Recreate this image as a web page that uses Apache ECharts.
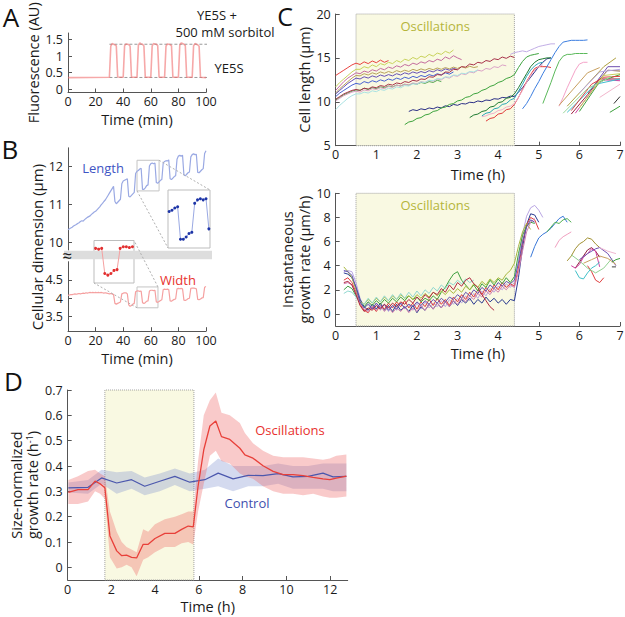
<!DOCTYPE html>
<html>
<head>
<meta charset="utf-8">
<script src="https://cdn.jsdelivr.net/npm/echarts@6/dist/echarts.min.js"></script>
<style>
html,body{margin:0;padding:0;background:#fff;}
#chart{width:625px;height:617px;}
</style>
</head>
<body>
<div id="chart"></div>
<script>
// ================= DATA =================
// Panel A: medium switching, fluorescence (AU) vs time (min)
const timeA  = [0,30,31,32,33,34,35,36,40,41,42,43,44,45,46,50,51,52,53,54,55,56,60,61,62,63,64,65,66,70,71,72,73,74,75,76,80,81,82,83,84,85,86,90,91,92,93,94,95,96,100];
const fluorA = [0.35,
  0.36,1.30,1.38,1.36,1.34,1.31,0.37,
  0.36,1.31,1.37,1.36,1.35,1.30,0.36,
  0.36,1.33,1.40,1.37,1.36,1.31,0.36,
  0.36,1.31,1.38,1.37,1.36,1.32,0.36,
  0.36,1.30,1.37,1.36,1.35,1.31,0.36,
  0.36,1.33,1.40,1.38,1.36,1.32,0.36,
  0.36,1.31,1.38,1.36,1.34,1.30,0.36,
  0.35];
const refLevelsA = [1.36, 0.355];      // sorbitol / YE5S levels
const refSpanA   = [30, 108];          // minutes

// Panel B: cell length and width (µm) vs time (min)
const minutesB = [0,1,2,3,4,5,6,7,8,9,10,11,12,13,14,15,16,17,18,19,20,21,22,23,24,25,26,27,28,29,30,31,32,33,34,35,36,37,38,39,40,41,42,43,44,45,46,47,48,49,50,51,52,53,54,55,56,57,58,59,60,61,62,63,64,65,66,67,68,69,70,71,72,73,74,75,76,77,78,79,80,81,82,83,84,85,86,87,88,89,90,91,92,93,94,95,96,97,98,99,100];
const lengthB = [10.33,10.36,10.38,10.40,10.43,10.45,10.47,10.50,10.52,10.55,
  10.57,10.56,10.60,10.63,10.66,10.68,10.70,10.74,10.77,10.80,
  10.82,10.86,10.90,10.94,10.99,11.03,11.08,11.12,11.18,11.24,
  11.30,11.36,11.42,11.48,11.08,11.02,11.06,11.10,11.14,11.55,
  11.62,11.64,11.66,11.68,11.22,11.20,11.24,11.28,11.32,11.82,
  11.88,11.90,11.94,11.96,11.40,11.40,11.44,11.50,11.52,12.02,
  12.08,12.10,12.08,12.10,11.58,11.56,11.60,11.64,11.66,12.10,
  12.14,12.16,12.15,12.18,11.68,11.66,11.70,11.74,11.76,12.20,
  12.28,12.30,12.28,12.30,11.78,11.76,11.80,11.84,11.86,12.26,
  12.32,12.34,12.32,12.33,11.85,11.84,11.88,11.92,11.95,12.35,
  12.42];
const widthB = [4.08,4.09,4.10,4.10,4.11,4.12,4.11,4.12,4.13,4.12,
  4.13,4.14,4.13,4.15,4.14,4.15,4.16,4.15,4.16,4.15,
  4.16,4.15,4.16,4.15,4.16,4.15,4.14,4.15,4.14,4.13,
  4.12,4.13,4.12,4.10,3.86,3.84,3.86,3.88,3.90,4.12,
  4.14,4.15,4.15,4.12,3.82,3.78,3.80,3.84,3.86,4.18,
  4.20,4.20,4.19,4.20,3.88,3.86,3.88,3.92,3.93,4.20,
  4.22,4.22,4.21,4.22,3.90,3.89,3.91,3.94,3.96,4.24,
  4.25,4.24,4.25,4.24,3.93,3.92,3.95,3.97,3.98,4.26,
  4.27,4.26,4.27,4.26,3.95,3.94,3.96,3.99,4.00,4.27,
  4.28,4.28,4.27,4.26,3.97,3.96,3.98,4.01,4.02,4.30,
  4.32];
const insetWindowLen = [50, 64];   // minutes shown in blue inset
const insetWindowWid = [51, 63];   // minutes shown in red inset

// Panel C: sampling grid (h) and single-cell traces [start time, values...]
const tGrid = [0,0.1,0.2,0.3,0.4,0.5,0.6,0.7,0.8,0.9,1,1.1,1.2,1.3,1.4,1.5,1.6,1.7,1.8,1.9,2,2.1,2.2,2.3,2.4,2.5,2.6,2.7,2.8,2.9,3,3.1,3.2,3.3,3.4,3.5,3.6,3.7,3.8,3.9,4,4.1,4.2,4.3,4.4,4.5,4.6,4.7,4.8,4.9,5,5.1,5.2,5.3,5.4,5.5,5.6,5.7,5.8,5.9,6,6.1,6.2,6.3,6.4,6.5,6.6,6.7,6.8,6.9,7];
const oscWindowC = [0.5, 4.4];
const lengthTraces = [
  [0,[13.0,13.3,13.6,13.9,14.2,14.4,14.25,14.55,14.35,14.65,14.45,14.75,14.5,14.7]],
  [0,[11.7,12.2,12.6,13.0,13.4,13.7,13.7,14.0,13.85,14.2,14.0,14.35,14.2,14.5,14.35,14.7,14.5,14.85,14.7,15.05,14.85,15.2,15.05,15.4,15.2,15.55,15.4,15.75,15.55,15.9]],
  [0,[11.3,11.8,12.3,12.7,13.0,13.3,13.2,13.5,13.35,13.65,13.5,13.8,13.65,13.95,13.8,14.1,13.95,14.25,14.1,14.4,14.25,14.55,14.4,14.7,14.55,14.85,14.7,15.1,14.9,15.25,15.0,14.8]],
  [0,[11.0,11.5,11.9,12.3,12.7,13.0,12.95,13.2,13.05,13.3,13.15,13.4,13.25,13.45,13.3,13.55,13.4,13.6,13.45,13.7,13.55,13.75,13.6,13.8,13.65,13.85,13.7,13.9,13.75,13.95,13.8,14.0,13.85,14.05,13.9,14.0]],
  [0,[10.9,11.3,11.7,12.1,12.4,12.7,12.6,12.85,12.7,12.95,12.8,13.05,12.9,13.1,12.95,13.2,13.05,13.3,13.15,13.4,13.25,13.45,13.3,13.55,13.4,13.65,13.5,13.75,13.6,13.8,13.65]],
  [0,[10.6,11.0,11.3,11.6,11.9,12.1,12.0,12.3,12.15,12.4,12.25,12.5,12.35,12.6,12.45,12.7,12.55,12.8,12.65,12.9,12.75,13.0,12.85,13.1,12.95,13.2,13.05,13.3,13.15,13.4]],
  [0,[10.2,10.5,10.8,11.0,11.2,11.35,11.3,11.55,11.4,11.6,11.5,11.7,11.6,11.8,11.7,11.9,11.8,12.0,11.9,12.1,12.0,12.2,12.1,12.3,12.2,12.45,12.3]],
  [0,[10.3,10.6,10.9,11.1,11.3,11.4,11.3,11.55,11.45,11.7,11.6,11.85,11.75,12.0,11.9,12.15,12.05,12.3,12.2,12.45,12.35,12.6,12.55,12.85,12.8,13.1,13.05,13.4,13.35,13.7,13.65,14.0,13.95,14.3,14.2,14.5,14.4,14.7,14.6,14.9,14.8,15.1,14.95,15.2,15.05]],
  [0,[10.1,10.4,10.7,10.9,11.1,11.2,11.1,11.35,11.25,11.5,11.4,11.6,11.5,11.75,11.65,11.9,11.8,12.0,11.9,12.15,12.05,12.3,12.2,12.45,12.35,12.6,12.5,12.8,12.7,13.0,12.9,13.2,13.1,13.4,13.3,13.6,13.5,13.8,13.7,14.0,13.9,14.2,14.1]],
  [0,[9.1,9.6,10.0,10.4,10.7,10.9,10.9,11.1,11.0,11.25,11.15,11.4,11.3,11.55,11.45,11.7,11.6,11.85,11.8,12.05,12.0,12.25,12.2,12.45,12.4,12.65,12.6,12.85,12.8,13.05,13.0,13.25,13.2,13.45,13.4,13.65]],
  [1.8,[8.9,9.1,9.0,9.2,9.1,9.3,9.2,9.4,9.3,9.55,9.45,9.7,9.6,9.8,9.75,9.95,9.9,10.1,10.0,10.2,10.15,10.35,10.3,10.5,10.45,10.65,10.6,11.1,11.6,12.2,12.8,13.4,14.0,14.5,14.9,15.0]],
  [1.7,[7.4,7.7,7.8,8.1,8.2,8.5,8.6,8.9,9.0,9.3,9.4,9.7,9.8,10.1,10.2,10.5,10.6,10.9,11.0,11.3,11.45,11.75,11.9,12.2,12.35,12.65,12.8,13.1,13.9,14.6,15.1,15.3,15.4,15.5]],
  [3.3,[8.2,8.5,8.6,8.9,9.0,9.4,9.5,9.9,10.0,10.4,10.5,10.9,11.6,12.4,13.2,14.0,14.5,14.8,14.9,15.0,15.0]],
  [3.7,[7.8,8.1,8.2,8.6,8.7,9.1,9.2,9.7,10.5,11.4,12.3,13.1,13.8,14.0,14.0,14.0,13.9]],
  [3.6,[8.4,8.7,8.8,9.2,9.3,9.7,9.8,10.2,10.4,11.2,12.0,12.9,13.6,14.1,14.4,14.5]],
  [3.6,[8.3,8.4,8.6,8.7,9.0,9.1,9.4,9.5,9.8,10.5,11.3,12.2,13.0,13.6,14.0,14.2]],
  [4.3,[15.4,15.6,15.7,15.8,15.7,15.9,16.1,16.3,16.4,16.5,16.6,16.6]],
  [4.6,[9.2,9.8,10.6,11.5,12.3,13.2,14.0,14.8,15.6,16.3,16.8,16.9,17.0,17.0,17.0,17.0,17.05]],
  [5.1,[9.8,11.0,12.2,13.5,14.6,15.2,15.4,15.4,15.5,15.5,15.5,15.5]],
  [5.5,[9.5,10.5,11.6,12.6,13.6,14.3,14.5,14.5]]
];
const lengthLate = [
  [[5.7,9.5],[6.6,14.0],[6.9,15.0]],
  [[5.8,8.6],[6.2,10.8],[6.5,12.6],[7.0,12.6]],
  [[5.9,8.7],[6.4,11.8],[6.6,12.5],[7.0,12.4]],
  [[6.3,11.5],[6.7,14.0],[7.0,14.0]],
  [[6.2,11.0],[6.7,13.6],[7.0,13.5]],
  [[5.7,8.8],[6.4,12.0],[7.0,12.6]],
  [[6.0,8.9],[6.5,12.3],[7.0,13.1]],
  [[6.5,10.5],[7.0,12.0]],
  [[6.85,9.8],[7.0,10.6]],
  [[6.75,8.8],[7.0,9.5]],
  [[5.5,9.6],[6.2,13.3],[6.5,13.9]],
  [[6.0,11.0],[6.5,13.4],[7.0,13.7]],
  [[5.8,9.0],[6.3,12.0],[6.6,12.8],[7.0,12.9]],
  [[5.6,8.7],[6.2,11.5],[6.8,12.9]],
  [[6.0,9.3],[6.6,13.0],[7.0,13.2]]
];
const rateTraces = [
  [0.2,[3.5,3.6,3.5,2.6,1.3, 0.5,1.0,0.4,0.9,0.3,0.8,0.2,0.7,0.3,0.9,0.4,0.8,0.3,0.9,0.4,1.0,0.5,0.9,0.6,1.1,0.6,1.2,0.8, 1.3,0.9,1.5,1.1,1.7,1.3,1.9,1.5,2.1,1.8,2.3,2.0,2.5,2.2,2.6, 4.5,6.6,8.1,8.8,9.0,8.6,8.0]],
  [0.2,[3.4,3.3,3.0,2.2,1.2, 0.6,0.3,0.8,0.4,0.9,0.3,0.7,0.2,0.8,0.3,0.6,0.2,0.7,0.1,0.6,0.3,0.8,0.4,0.9,0.5,1.0,0.6,1.1, 0.7,1.2,0.9,1.3,0.8,1.2,0.9,1.4,1.0,1.3,0.9,1.2,0.8,1.2,1.1, 3.0,5.5,7.4,8.3,8.2,7.6]],
  [0.2,[2.8,3.0,2.6,1.8,0.8, 0.3,0.1,0.6,0.2,0.7,0.4,0.9,0.5,1.0,0.6,1.1,0.5,0.9,0.4,1.0,0.6,1.2,0.7,1.3,0.8,1.2,0.7,1.4, 1.0,1.6,1.2,1.8,1.4,2.0,1.6,2.2,1.8,2.4,2.0,2.6,2.2,2.5,2.3, 3.8,5.9,7.4,8.0,7.8,7.0]],
  [0.2,[2.0,2.3,2.1,1.5,0.9, 0.6,1.0,0.7,1.1,0.8,1.2,0.9,1.3,1.0,1.4,1.1,1.5,1.2,1.4,1.0,1.3,1.1,1.5,1.2,1.8,2.2,2.8,3.3, 3.5,2.8,2.4,2.0,2.4,1.9,2.5,2.2,2.8,2.4,2.9,2.5,3.0,2.6,3.1, 5.0,6.5,7.3,7.6,7.5]],
  [0.2,[3.9,3.5,3.0,2.0,1.0, 0.8,1.2,0.9,1.3,1.0,1.4,1.1,1.5,1.2,1.6,1.3,1.5,1.2,1.6,1.3,1.7,1.4,1.8,1.5,1.9,1.6,2.0,1.7, 2.1,1.8,2.3,2.0,2.5,2.2,2.7,2.4,2.9,2.6,3.0,2.8,3.3,3.6,4.2, 5.6,6.8,7.5,7.0]],
  [0.2,[1.7,1.9,1.8,1.4,0.9, 0.8,1.3,0.9,1.4,1.0,1.5,1.1,1.6,1.2,1.7,1.3,1.8,1.4,1.9,1.5,2.0,1.7,2.2,1.9,2.4,2.1,2.6,2.4, 2.8,2.5,2.9,2.6,2.8]],
  [0.2,[2.5,2.6,2.4,1.7,0.9, 0.4,0.2,0.6,0.3,0.7,0.2,0.6,0.1,0.5,0.2,0.6,0.1,0.5,0.2,0.7,0.3,0.8,0.4,0.9,0.5,1.0,0.6,1.1, 0.8,1.3,1.0,1.5,1.2,1.7,1.4,1.9,1.6,2.1,1.8,2.3,2.0,2.4,2.2, 3.5,5.2,6.8,7.6,7.9]],
  [0.2,[3.6,3.5,3.2,2.2,1.0, 0.5,0.8,0.4,0.9,0.5,0.8,0.3,0.7,0.4,0.9,0.5,0.8,0.6,1.0,0.7,1.1,0.8,1.2,0.9,1.3,1.0,1.4,1.2, 1.6,1.3,1.8,1.5,2.0,1.7,2.2,1.9,2.4,2.1,2.6,2.3,2.7,2.5,2.8, 4.2,6.0,7.2,7.8,7.6]],
  [0.2,[2.6,2.7,2.4,1.6,0.7, 0.2,0.5,0.3,0.7,0.4,0.8,0.5,0.9,0.6,1.0,0.8,1.2,0.9,1.4,1.1,1.6,1.3,1.8,1.6,2.1,1.8,2.4,2.0, 2.6,2.3,2.8,3.0,2.5,2.2,1.6,1.1,0.6,0.3]]
];
const rateLate = [
  [[4.8,4.7],[4.9,5.6],[5.0,6.3],[5.1,6.6],[5.2,6.8],[5.3,7.1],[5.4,7.5],[5.5,7.9],[5.6,8.1],[5.7,7.6]],
  [[5.2,6.8],[5.3,7.2],[5.4,7.6],[5.5,7.5],[5.6,7.8],[5.7,7.9],[5.8,7.6]],
  [[5.4,5.5],[5.5,6.1],[5.6,6.4],[5.7,6.6],[5.8,6.8]],
  [[5.7,4.4],[5.8,4.8],[5.9,5.4],[6.0,5.8],[6.1,6.0],[6.2,6.3],[6.3,6.2],[6.4,5.8],[6.5,5.5]],
  [[5.9,3.8],[6.0,4.3],[6.1,4.8],[6.2,5.3],[6.3,5.5],[6.4,5.2],[6.5,4.7]],
  [[5.8,4.0],[5.9,3.8],[6.0,4.1],[6.1,4.7],[6.2,5.0],[6.3,5.4],[6.4,5.2],[6.5,3.9]],
  [[5.9,3.6],[6.0,3.0],[6.1,2.9],[6.2,3.4],[6.3,3.8],[6.4,4.0],[6.5,4.3]],
  [[6.2,4.0],[6.3,3.5],[6.4,2.8],[6.5,2.6],[6.6,3.0]],
  [[5.8,4.9],[6.0,4.4],[6.2,3.8],[6.4,3.4],[6.6,3.8],[6.8,4.6]],
  [[6.0,4.5],[6.2,5.0],[6.4,5.4],[6.5,5.5],[6.7,5.0],[6.9,4.0]],
  [[6.1,4.2],[6.3,4.5],[6.5,4.8],[6.7,4.6],[6.9,4.1]],
  [[6.5,5.5],[6.7,5.2],[6.9,5.0]],
  [[6.8,4.3],[6.9,4.5],[7.0,4.6]],
  [[6.8,3.9],[6.9,3.9]]
];

// Panel D: size-normalized growth rate (1/h)
const oscWindowD = [1.7, 5.77];
const oscT     = [0.03,0.47,0.93,1.25,1.48,1.70,1.93,2.24,2.47,2.69,2.92,3.15,3.45,3.68,3.99,4.44,4.90,5.21,5.51,5.74,5.96,6.22,6.50,6.77,7.03,7.41,7.87,8.10,8.47,8.93,9.39,9.85,10.30,10.76,11.22,11.67,11.98,12.28,12.74];
const oscMean  = [0.296,0.307,0.307,0.34,0.33,0.314,0.124,0.065,0.046,0.048,0.039,0.037,0.091,0.091,0.114,0.134,0.134,0.150,0.163,0.16,0.32,0.464,0.558,0.578,0.516,0.505,0.47,0.444,0.431,0.401,0.379,0.366,0.366,0.362,0.355,0.349,0.346,0.352,0.36];
const oscUpper = [0.345,0.36,0.38,0.385,0.37,0.36,0.22,0.14,0.10,0.08,0.07,0.06,0.15,0.14,0.17,0.19,0.20,0.21,0.22,0.22,0.42,0.60,0.66,0.69,0.61,0.60,0.57,0.53,0.49,0.46,0.44,0.435,0.435,0.435,0.43,0.425,0.43,0.44,0.445];
const oscLower = [0.25,0.25,0.26,0.30,0.29,0.27,0.04,-0.005,0.0,0.01,0.0,-0.035,0.03,0.04,0.06,0.08,0.08,0.095,0.10,0.09,0.22,0.33,0.44,0.46,0.42,0.41,0.37,0.36,0.35,0.32,0.30,0.29,0.29,0.285,0.29,0.28,0.275,0.275,0.28];
const ctlT     = [0.03,0.93,1.55,2.24,2.92,3.52,4.21,4.90,5.58,6.27,6.88,7.56,8.25,8.93,9.62,10.30,10.99,11.67,12.13,12.74];
const ctlMean  = [0.314,0.316,0.353,0.333,0.346,0.32,0.34,0.359,0.336,0.346,0.372,0.349,0.363,0.362,0.37,0.357,0.359,0.372,0.357,0.359];
const ctlUpper = [0.335,0.345,0.385,0.375,0.38,0.355,0.37,0.39,0.37,0.385,0.43,0.40,0.40,0.40,0.41,0.40,0.40,0.41,0.41,0.41];
const ctlLower = [0.295,0.29,0.33,0.29,0.31,0.285,0.30,0.325,0.30,0.31,0.32,0.30,0.32,0.32,0.33,0.31,0.31,0.31,0.30,0.30];

// Tick labels
const ticksA_y = [0, 0.5, 1, 1.5];
const ticksB_up = [10, 11, 12];
const ticksB_lo = [3.5, 4, 4.5];
const ticksCb_y = [0, 2, 4, 6, 8, 10];
const ticksD_x = [0, 2, 4, 6, 8, 10, 12];
const ticksD_y = [0, 0.1, 0.2, 0.3, 0.4, 0.5, 0.6, 0.7];

// ================= STYLE / LAYOUT =================
const FONT = "'Open Sans', 'Liberation Sans', sans-serif";
const INK = '#1a1a1a', AX = '#555555';
const G = {
  A:  {left:68,   top:33,    width:138,   height:59.5},
  Bu: {left:68,   top:147.8, width:138,   height:102.1},
  Bl: {left:68,   top:261.7, width:138,   height:69.5},
  Bi1:{left:168,  top:190,   width:42,    height:58},
  Bi2:{left:94,   top:240.5, width:40,    height:42.5},
  Ct: {left:335.7,top:14,    width:284.3, height:131.7},
  Cb: {left:335.7,top:193.3, width:284.3, height:132.7},
  D:  {left:67.7, top:390,   width:280,   height:190}
};
const lenBox = [[50, 11.36], [66, 12.17]];
const widBox = [[50, 3.74], [65.2, 4.31]];
const lenColors = ['#e8423f','#c8d25c','#c46c9e','#b9a35a','#6650b4','#4862d0','#52a852','#a8324a','#dba2c6','#a9e2e2','#2b2f86','#3da33d','#1e7a30','#e03a3a','#2ca6b8','#f0b0cc','#c2aee6','#3c7ee0','#5ab95a','#f5a3c8'];
const lenLateColors = ['#b0a040','#9c2040','#d040a0','#7050b0','#8a6040','#40c0d0','#40a040','#f2b6cc','#303030','#3ca03c','#c8a060','#b8a8e0','#e04040','#9ad89a','#c8d25c'];
const rateColors = ['#b9a6e3','#2a3a90','#e04040','#40a040','#a8b840','#90d8d0','#d080b0','#6050b0','#b02840'];
const rateLateColors = ['#3a78d8','#50b050','#f0a0c0','#a09030','#902040','#d040a0','#40c0c8','#e04040','#90d090','#7050b0','#c8a060','#f0b8d0','#40a040','#404040'];

function zip(xs, ys) { return xs.map((x, i) => [x, ys[i]]); }
function gridTrace(tr) { const i0 = tGrid.indexOf(tr[0]); return tr[1].map((v, i) => [tGrid[i0 + i], v]); }
function windowPts(ts, vs, w) { const out = []; ts.forEach((t, i) => { if (t >= w[0] && t <= w[1]) out.push([t, vs[i]]); }); return out; }

function axis(o) {
  const a = {
    type: 'value', gridIndex: o.grid, min: o.min, max: o.max,
    axisLine: {show: true, onZero: false, lineStyle: {color: AX, width: 1}},
    axisTick: {show: true, inside: true, length: 4, lineStyle: {color: AX, width: 1}},
    axisLabel: {show: true, color: INK, fontSize: 12.5, fontFamily: FONT, margin: o.lm || 3, lineHeight: 12},
    splitLine: {show: false},
    name: o.name || '', nameLocation: 'middle', nameGap: o.nameGap || 0,
    nameTextStyle: Object.assign({color: INK, fontSize: 14.5, fontFamily: FONT, lineHeight: o.lh || 14}, o.nts || {})
  };
  if (o.interval !== undefined) a.interval = o.interval;
  if (o.ticks) { a.axisLabel.customValues = o.ticks; a.axisTick.customValues = o.ticks; }
  if (o.hidden) { a.show = false; }
  return a;
}

const grids = ['A','Bu','Bl','Bi1','Bi2','Ct','Cb','D'].map(k => Object.assign({
  containLabel: false, outerBoundsMode: 'none', show: false
}, G[k]));
grids[3].show = true; grids[3].borderColor = '#bdbdbd'; grids[3].borderWidth = 1; grids[3].backgroundColor = 'transparent';
grids[4].show = true; grids[4].borderColor = '#bdbdbd'; grids[4].borderWidth = 1; grids[4].backgroundColor = 'transparent';

const xAxes = [
  axis({grid:0, min:0, max:100, interval:20, name:'Time (min)', nameGap:20}),
  axis({grid:1, min:0, max:100, hidden:true}),
  axis({grid:2, min:0, max:100, interval:20, name:'Time (min)', nameGap:20}),
  axis({grid:3, min:insetWindowLen[0]-0.4, max:insetWindowLen[1]+0.4, hidden:true}),
  axis({grid:4, min:insetWindowWid[0]-0.5, max:insetWindowWid[1]+0.5, hidden:true}),
  axis({grid:5, min:0, max:7, interval:1, name:'Time (h)', nameGap:22}),
  axis({grid:6, min:0, max:7, interval:1, name:'Time (h)', nameGap:20}),
  axis({grid:7, min:0, max:12.8, ticks:ticksD_x, name:'Time (h)', nameGap:19})
];
const yAxes = [
  axis({grid:0, min:-0.1, max:1.7, ticks:ticksA_y, name:'Fluorescence (AU)', nameGap:22, lm:5, lh:16}),
  axis({grid:1, min:9.8, max:12.5, ticks:ticksB_up, lm:5}),
  axis({grid:2, min:3.1, max:5.0, ticks:ticksB_lo, lm:5}),
  axis({grid:3, min:11.25, max:12.25, hidden:true}),
  axis({grid:4, min:3.76, max:4.30, hidden:true}),
  axis({grid:5, min:5, max:20, interval:5, name:'Cell length (µm)', nameGap:22, lm:5, lh:16}),
  axis({grid:6, min:-1, max:10, ticks:ticksCb_y, name:'Instantaneous\ngrowth rate (µm/h)', nameGap:15, lh:17, lm:5}),
  axis({grid:7, min:-0.05, max:0.7, ticks:ticksD_y, name:'Size-normalized\ngrowth rate (h{sup|-1})', nameGap:27, lh:16, lm:5,
        nts:{rich:{sup:{fontSize:9, fontFamily:FONT, color:INK, verticalAlign:'top', lineHeight:16}}}})
];

const series = [];
const ln = (xi, data, color, width, extra) => Object.assign({
  type:'line', xAxisIndex:xi, yAxisIndex:xi, data, symbol:'none', showSymbol:false, silent:true,
  animation:false, lineStyle:{color, width: width || 1}, itemStyle:{color}, z:3
}, extra || {});
// shaded band between lower and upper bounds, drawn through the axes
function band(xi, ts, lo, up, fill) {
  return {type:'custom', xAxisIndex:xi, yAxisIndex:xi, silent:true, animation:false, z:2,
    data:[[ts[0], lo[0]]],
    renderItem: (params, api) => {
      const top = ts.map((t, i) => api.coord([t, up[i]]));
      const bot = ts.map((t, i) => api.coord([t, lo[i]])).reverse();
      return {type:'polygon', shape:{points: top.concat(bot)}, style:{fill}};
    }};
}

// ---- A ----
series.push(ln(0, zip(timeA, fluorA), 'rgba(240,110,110,0.6)', 1.6));
refLevelsA.forEach(l => series.push(ln(0, refSpanA.map(t => [t, l]), '#9a9a9a', 1, {clip:false, lineStyle:{color:'#9a9a9a', width:1, type:[3,2]}, z:2})));

// ---- B ----
const boxStyle = {silent:true, itemStyle:{color:'rgba(0,0,0,0)', borderColor:'#c4c4c4', borderWidth:1}, label:{show:false}};
series.push(ln(1, zip(minutesB, lengthB), '#9aa9e3', 1.2, {markArea:Object.assign({data:[[{coord:lenBox[0]},{coord:lenBox[1]}]]}, boxStyle)}));
series.push(ln(2, zip(minutesB, widthB), '#f5a0a0', 1.2, {markArea:Object.assign({data:[[{coord:widBox[0]},{coord:widBox[1]}]]}, boxStyle)}));
series.push(ln(3, windowPts(minutesB, lengthB, insetWindowLen), '#9aa9e3', 1, {symbol:'circle', symbolSize:3, showSymbol:true, showAllSymbol:true, itemStyle:{color:'#1d34a6'}}));
series.push(ln(4, windowPts(minutesB, widthB, insetWindowWid), '#f5a0a0', 1, {symbol:'circle', symbolSize:3, showSymbol:true, showAllSymbol:true, itemStyle:{color:'#e23030'}}));

// ---- C ----
const oscArea = (label) => ({
  silent:true,
  itemStyle:{color:'#f9f9e2', borderColor:'#a0a0a0', borderWidth:1, borderType:'dotted'},
  label:{show:!!label, position:'insideTop', distance:6, color:'#b5b53a', fontSize:13, fontFamily:FONT},
  data:[[{name:label || '', xAxis:oscWindowC[0]},{xAxis:oscWindowC[1]}]]
});
series.push(ln(5, [], '#000', 1, {z:1, markArea:oscArea('Oscillations')}));
lengthTraces.forEach((tr, i) => series.push(ln(5, gridTrace(tr), lenColors[i], 1)));
lengthLate.forEach((tr, i) => series.push(ln(5, tr, lenLateColors[i], 1)));
series.push(ln(6, [], '#000', 1, {z:1, markArea:oscArea('Oscillations')}));
rateTraces.forEach((tr, i) => series.push(ln(6, gridTrace(tr), rateColors[i], 1)));
rateLate.forEach((tr, i) => series.push(ln(6, tr, rateLateColors[i], 1)));

// ---- D ----
series.push(ln(7, [], '#000', 1, {z:1, markArea:{silent:true,
  itemStyle:{color:'#f9f9e2', borderColor:'#a0a0a0', borderWidth:1, borderType:'dotted'},
  data:[[{xAxis:oscWindowD[0]},{xAxis:oscWindowD[1]}]]}}));
series.push(band(7, ctlT, ctlLower, ctlUpper, 'rgba(120,140,205,0.32)'));
series.push(band(7, oscT, oscLower, oscUpper, 'rgba(236,90,90,0.32)'));
series.push(ln(7, zip(ctlT, ctlMean), '#4b57ad', 1.2));
series.push(ln(7, zip(oscT, oscMean), '#e8403a', 1.3));

const chart = echarts.init(document.getElementById('chart'), null, {renderer:'svg'});
chart.setOption({
  animation:false,
  backgroundColor:'#ffffff',
  textStyle:{fontFamily:FONT},
  grid:grids, xAxis:xAxes, yAxis:yAxes, series
});

// ---- annotations ----
function txt(text, x, y, size, color, extra) {
  return Object.assign({type:'text', x, y, silent:true, z:10,
    style:{text, fill:color || INK, fontSize:size, fontFamily:FONT, align:'center', verticalAlign:'middle'}}, extra || {});
}
function dash(p, q) {
  return {type:'line', silent:true, z:10, shape:{x1:p[0], y1:p[1], x2:q[0], y2:q[1]}, style:{stroke:'#b0b0b0', lineWidth:1, lineDash:[2,2]}};
}
const lb = chart.convertToPixel({gridIndex:1}, lenBox[0]);
const lt = chart.convertToPixel({gridIndex:1}, lenBox[1]);
const wb = chart.convertToPixel({gridIndex:2}, widBox[0]);
const wt = chart.convertToPixel({gridIndex:2}, widBox[1]);
const bandTop = G.Bu.top + G.Bu.height + 0.8, bandBot = G.Bl.top - 2.4;

chart.setOption({graphic:[
  {type:'rect', silent:true, z:0, shape:{x:G.Bu.left - 4, y:bandTop, width:G.Bu.width + 10, height:bandBot - bandTop}, style:{fill:'#dddddd'}},
  txt('≈', G.Bu.left - 1, (bandTop + bandBot) / 2, 17, INK),
  dash([lt[0], lt[1]], [G.Bi1.left + G.Bi1.width, G.Bi1.top]),
  dash([lb[0], lb[1]], [G.Bi1.left, G.Bi1.top + G.Bi1.height]),
  dash([wt[0], wt[1]], [G.Bi2.left + G.Bi2.width, G.Bi2.top]),
  dash([wb[0], wb[1]], [G.Bi2.left, G.Bi2.top + G.Bi2.height]),
  txt('A', 11, 17, 26, '#111'),
  txt('B', 10, 149, 26, '#111'),
  txt('C', 285, 16, 25, '#111'),
  txt('D', 13.5, 381, 26, '#111'),
  txt('YE5S +', 217, 15, 13, INK),
  txt('500 mM sorbitol', 225, 32, 13, INK),
  txt('YE5S', 229, 68, 13, INK),
  txt('Length', 103, 168, 13, '#3f55c4'),
  txt('Width', 178, 280, 13, '#e8312e'),
  txt('Cellular dimension (µm)', 37, 247, 15, INK, {rotation: Math.PI / 2}),
  txt('Oscillations', 290, 430, 13, '#e8312e'),
  txt('Control', 247, 503, 13, '#3f4fae')
]});
</script>
</body>
</html>
